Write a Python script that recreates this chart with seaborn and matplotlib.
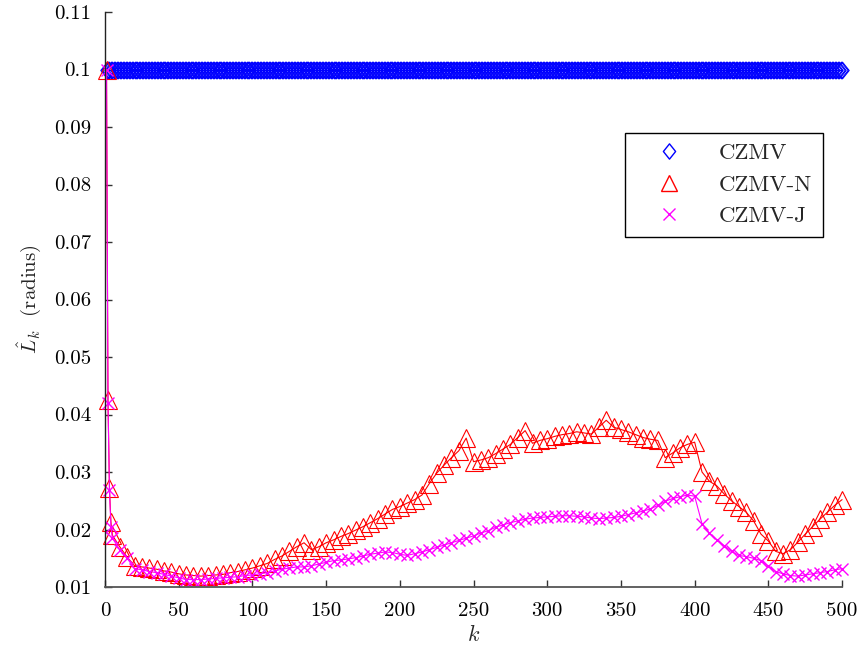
import numpy as np
import matplotlib
matplotlib.use("Agg")
import matplotlib.pyplot as plt
from matplotlib.lines import Line2D
from matplotlib.path import Path
import seaborn as sns

# ---------------- data ----------------
k = [1, 2, 3, 4] + list(range(5, 501, 5))

czmv_n = [0.1000, 0.0425, 0.0272, 0.0213,
          0.0190, 0.0170, 0.0152, 0.0137, 0.0135, 0.0133, 0.0131, 0.0128, 0.0126, 0.0123,
          0.0121, 0.0120, 0.0119, 0.0120, 0.0121, 0.0122, 0.0125, 0.0127, 0.0130, 0.0133,
          0.0137, 0.0141, 0.0148, 0.0154, 0.0162, 0.0170, 0.0177, 0.0165, 0.0170, 0.0177,
          0.0182, 0.0188, 0.0193, 0.0199, 0.0205, 0.0212, 0.0219, 0.0227, 0.0235, 0.0240,
          0.0246, 0.0252, 0.0260, 0.0280, 0.0298, 0.0312, 0.0325, 0.0337, 0.0359, 0.0318,
          0.0321, 0.0325, 0.0332, 0.0340, 0.0348, 0.0360, 0.0372, 0.0350, 0.0355, 0.0358,
          0.0362, 0.0365, 0.0367, 0.0370, 0.0368, 0.0366, 0.0378, 0.0390, 0.0378, 0.0374,
          0.0370, 0.0365, 0.0360, 0.0357, 0.0355, 0.0325, 0.0333, 0.0342, 0.0348, 0.0352,
          0.0300, 0.0284, 0.0276, 0.0262, 0.0250, 0.0240, 0.0230, 0.0215, 0.0192, 0.0180,
          0.0162, 0.0158, 0.0165, 0.0178, 0.0192, 0.0205, 0.0218, 0.0230, 0.0242, 0.0252]

czmv_j = [0.1000, 0.0420, 0.0268, 0.0205,
          0.0185, 0.0165, 0.0150, 0.0132, 0.0130, 0.0127, 0.0125, 0.0122, 0.0119, 0.0116,
          0.0113, 0.0113, 0.0113, 0.0114, 0.0115, 0.0116, 0.0117, 0.0118, 0.0120, 0.0121,
          0.0123, 0.0125, 0.0128, 0.0131, 0.0133, 0.0135, 0.0135, 0.0137, 0.0140, 0.0143,
          0.0146, 0.0147, 0.0149, 0.0151, 0.0154, 0.0157, 0.0159, 0.0161, 0.0160, 0.0157,
          0.0155, 0.0158, 0.0161, 0.0165, 0.0169, 0.0173, 0.0177, 0.0181, 0.0185, 0.0189,
          0.0194, 0.0198, 0.0204, 0.0208, 0.0212, 0.0215, 0.0218, 0.0220, 0.0221, 0.0222,
          0.0223, 0.0224, 0.0224, 0.0223, 0.0222, 0.0220, 0.0219, 0.0220, 0.0221, 0.0223,
          0.0226, 0.0229, 0.0232, 0.0236, 0.0242, 0.0249, 0.0254, 0.0257, 0.0260, 0.0258,
          0.0210, 0.0194, 0.0182, 0.0172, 0.0162, 0.0155, 0.0153, 0.0150, 0.0146, 0.0136,
          0.0127, 0.0123, 0.0120, 0.0119, 0.0121, 0.0123, 0.0125, 0.0127, 0.0130, 0.0132]

k_czmv = list(range(1, 501))
czmv = [0.1] * 500

xticks = [0, 50, 100, 150, 200, 250, 300, 350, 400, 450, 500]
yticks = [0.01, 0.02, 0.03, 0.04, 0.05, 0.06, 0.07, 0.08, 0.09, 0.1, 0.11]
ytick_labels = ["0.01", "0.02", "0.03", "0.04", "0.05", "0.06", "0.07",
                "0.08", "0.09", "0.1", "0.11"]
series_names = ["CZMV", "CZMV-N", "CZMV-J"]

# ---------------- style ----------------
sns.set_style("ticks")
plt.rcParams["font.family"] = ["cmr10", "DejaVu Serif"]
plt.rcParams["mathtext.fontset"] = "cm"
plt.rcParams["axes.unicode_minus"] = False

diamond = Path([(0, 1), (0.8, 0), (0, -1), (-0.8, 0), (0, 1)],
               [Path.MOVETO, Path.LINETO, Path.LINETO, Path.LINETO, Path.CLOSEPOLY])

fig = plt.figure(figsize=(8.61, 6.53), dpi=100)
ax = fig.add_axes([0.122, 0.101, 0.856, 0.8806])

sns.lineplot(x=k_czmv, y=czmv, ax=ax, color="#0000ff", marker=diamond,
             markersize=12, markerfacecolor="none", markeredgecolor="#0000ff",
             markeredgewidth=0.8, linewidth=0.8, clip_on=False, estimator=None)
sns.lineplot(x=k, y=czmv_n, ax=ax, color="#ff0000", marker="^",
             markersize=12.5, markerfacecolor="none", markeredgecolor="#ff0000",
             markeredgewidth=0.8, linewidth=0.8, clip_on=False, estimator=None)
sns.lineplot(x=k, y=czmv_j, ax=ax, color="#ff00ff", marker="x",
             markersize=9, markeredgecolor="#ff00ff",
             markeredgewidth=1.0, linewidth=0.8, clip_on=False, estimator=None)

ax.set_xlim(0, 500)
ax.set_ylim(0.01, 0.11)
ax.set_xticks(xticks)
ax.set_xticklabels([str(t) for t in xticks])
ax.set_yticks(yticks)
ax.set_yticklabels(ytick_labels)

for s in ["top", "right"]:
    ax.spines[s].set_visible(False)
ax.spines["left"].set_color("#222222")
ax.spines["bottom"].set_color("#555555")
ax.spines["left"].set_linewidth(1.0)
ax.spines["bottom"].set_linewidth(1.3)
ax.tick_params(direction="in", length=5, width=1, colors="#333333",
               labelcolor="black", labelsize=15)
ax.tick_params(axis="y", pad=10)
ax.tick_params(axis="x", pad=11)

ax.set_xlabel(r"$k$", fontsize=16, labelpad=3)
ax.set_ylabel(r"$\hat{L}_k$  (radius)", fontsize=15, labelpad=8)

handles = [
    Line2D([], [], linestyle="none", marker=diamond, markersize=11,
           markerfacecolor="none", markeredgecolor="#0000ff", markeredgewidth=1.0),
    Line2D([], [], linestyle="none", marker="^", markersize=12,
           markerfacecolor="none", markeredgecolor="#ff0000", markeredgewidth=1.0),
    Line2D([], [], linestyle="none", marker="x", markersize=8,
           markeredgecolor="#ff00ff", markeredgewidth=1.0),
]
leg = ax.legend(handles, series_names, loc="upper left",
                bbox_to_anchor=(0.7056, 0.7896), fontsize=16.5, frameon=True,
                fancybox=False, edgecolor="black", framealpha=1,
                borderpad=0.45, labelspacing=0.5, handlelength=2.9,
                handletextpad=0.75, borderaxespad=0)
leg.get_frame().set_linewidth(1.0)

fig.savefig("out.png", dpi=100)
